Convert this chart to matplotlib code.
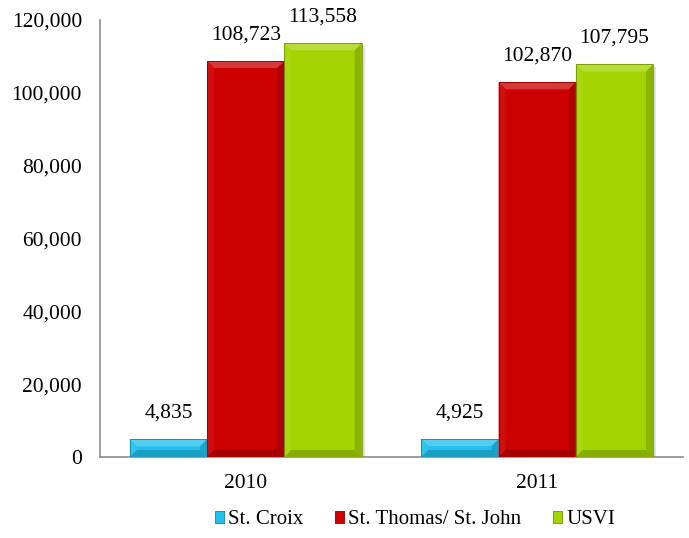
import matplotlib
matplotlib.use("Agg")
import matplotlib.pyplot as plt
import matplotlib.colors as mcolors
from matplotlib.patches import Polygon, Rectangle
from matplotlib.transforms import IdentityTransform
import numpy as np

years = ["2010", "2011"]
series = ["St. Croix", "St. Thomas/ St. John", "USVI"]
st_croix = [4835, 4925]
st_thomas = [108723, 102870]
usvi = [113558, 107795]
colors = ["#22C0EC", "#CC0000", "#A4D400"]

plt.rcParams["font.family"] = ["Liberation Serif", "DejaVu Serif"]

fig = plt.figure(figsize=(6.89, 5.38), dpi=100)
ax = fig.add_axes([100 / 689, 1 - 457 / 538, 583 / 689, 437 / 538])

x = np.arange(len(years))
width = 0.265
values = [st_croix, st_thomas, usvi]


def shade(c, f):
    r, g, b = mcolors.to_rgb(c)
    if f > 0:
        return (r + (1 - r) * f, g + (1 - g) * f, b + (1 - b) * f)
    return (r * (1 + f), g * (1 + f), b * (1 + f))


def bevel(ax, patch, color, size=7):
    # excel-like bevel drawn over a bar, in pixels
    (x0, y0), (x1, y1) = ax.transData.transform(
        [(patch.get_x(), patch.get_y()),
         (patch.get_x() + patch.get_width(), patch.get_y() + patch.get_height())])
    s = min(size, (y1 - y0) / 2.2)
    t = IdentityTransform()
    ax.add_patch(Rectangle((x0 + 3, y0 - 3), x1 - x0, y1 - y0, transform=t,
                           facecolor="#000000", alpha=0.12, lw=0, zorder=1))
    ax.add_patch(Rectangle((x0, y0), x1 - x0, y1 - y0, transform=t,
                           facecolor=color, lw=0, zorder=2))
    faces = [
        ([(x0, y1), (x1, y1), (x1 - s, y1 - s), (x0 + s, y1 - s)], shade(color, 0.22)),
        ([(x0, y0), (x0, y1), (x0 + s, y1 - s), (x0 + s, y0 + s)], shade(color, 0.06)),
        ([(x1, y0), (x1, y1), (x1 - s, y1 - s), (x1 - s, y0 + s)], shade(color, -0.15)),
        ([(x0, y0), (x1, y0), (x1 - s, y0 + s), (x0 + s, y0 + s)], shade(color, -0.18)),
    ]
    for pts, fc in faces:
        ax.add_patch(Polygon(pts, closed=True, transform=t, facecolor=fc,
                             lw=0, zorder=3, clip_on=False))
    ax.add_patch(Rectangle((x0, y0), x1 - x0, y1 - y0, transform=t, fill=False,
                           edgecolor=shade(color, -0.3), lw=0.6, zorder=4))


ax.set_xlim(-0.5, 1.5)
ax.set_ylim(0, 120000)

for i, (name, vals, c) in enumerate(zip(series, values, colors)):
    bars = ax.bar(x + (i - 1) * width, vals, width, color="none", label=name)
    for b, v in zip(bars, vals):
        bevel(ax, b, c)
        ax.annotate(f"{v:,}", (b.get_x() + b.get_width() / 2, v),
                    xytext=(0, 12), textcoords="offset points",
                    ha="center", va="bottom", fontsize=15.5)

ax.set_xticks(x)
ax.set_xticklabels(years, fontsize=15.5)
ax.yaxis.set_major_formatter(matplotlib.ticker.FuncFormatter(lambda v, p: f"{int(v):,}"))
ax.set_yticks(range(0, 120001, 20000))
ax.tick_params(axis="y", labelsize=15.5, length=0, pad=13)
ax.tick_params(axis="x", length=0, pad=12)
for side in ["top", "right"]:
    ax.spines[side].set_visible(False)
for side in ["left", "bottom"]:
    ax.spines[side].set_color("#8C8C8C")
    ax.spines[side].set_linewidth(1.2)

proxies = [Rectangle((0, 0), 1, 1, facecolor=c, edgecolor=shade(c, -0.3), lw=0.6)
           for c in colors]
fig.legend(proxies, series, loc="center", bbox_to_anchor=(415 / 689, 1 - 520 / 538),
           ncol=3, frameon=False, fontsize=15, handlelength=0.45, handleheight=0.45,
           handletextpad=0.2, columnspacing=1.5)

fig.savefig("out.png", dpi=100)
